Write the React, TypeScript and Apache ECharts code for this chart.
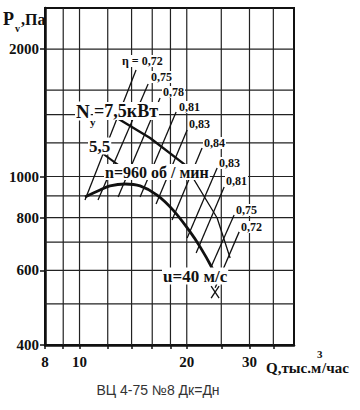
import { useEffect, useRef } from 'react';
import * as echarts from 'echarts';

// Log-log grid and axes
const xGridValues = [9, 10, 12, 14, 16, 18, 20, 25, 30, 35];
const yGridValues = [500, 600, 700, 800, 900, 1000, 1200, 1400, 1600, 2000];
const xTickValues = [8, 9, 10, 12, 14, 16, 18, 20, 25, 30, 35];
const xTickLabels = [8, 10, 20, 30];
const yTickLabels = [400, 600, 800, 1000, 2000];

// Pressure curve n = 960 rpm (Q, thousand m3/h ; Pv, Pa)
const curveQ = [10.36, 11.42, 12.18, 13.42, 14.79, 16.51, 18.31, 20.44, 21.8, 23.56, 23.88];
const curveP = [895, 929, 950, 960, 950, 904, 833, 740, 682, 608, 589];

// Efficiency lines: [lowQ, lowP, highQ, highP]
const etaNames = ['0,72', '0,75', '0,78', '0,81', '0,83', '0,84', '0,83', '0,81', '0,75', '0,72'];
const etaLines = [
  [10.36, 880, 14.41, 1784],
  [11.27, 880, 15.58, 1654],
  [12.83, 895, 16.83, 1532],
  [14.79, 895, 18.67, 1420],
  [16.4, 861, 20.05, 1287],
  [18.19, 789, 22.08, 1168],
  [20.05, 716, 24.34, 1047],
  [21.25, 660, 25.47, 945],
  [22.81, 582, 27.16, 811],
  [24.03, 546, 28.06, 740],
];

// Power lines
const power75Q = [12.74, 15.78, 19.79];
const power75P = [1374, 1233, 1065];
const power75ContQ = [19.79, 24.34, 26.47];
const power75ContP = [1065, 798, 642];
const power55Q = [11.27, 12.83];
const power55P = [1155, 1065];
const crossA = [[23.41, 551], [24.65, 516]];
const crossB = [[24.65, 551], [23.41, 516]];

const INK = '#111';
const SERIF = 'Liberation Serif';

const zip = (a: number[], b: number[]) => a.map((v, i) => [v, b[i]]);

export default function App() {
  const ref = useRef<HTMLDivElement>(null);
  useEffect(() => {
    if (!ref.current) return;
    const chart = echarts.init(ref.current, undefined, { renderer: 'svg' });

    const gridSeries: any[] = [
      ...xGridValues.map((v) => ({
        type: 'line', data: [[v, 400], [v, 2500]], symbol: 'none', silent: true,
        lineStyle: { color: '#222', width: 1.2 }, z: 1,
      })),
      ...yGridValues.map((v) => ({
        type: 'line', data: [[8, v], [40, v]], symbol: 'none', silent: true,
        lineStyle: { color: '#222', width: 1.2 }, z: 1,
      })),
    ];

    const etaSeries = etaLines.map((l) => ({
      type: 'line', data: [[l[0], l[1]], [l[2], l[3]]], symbol: 'none', silent: true,
      lineStyle: { color: INK, width: 1.3 }, z: 3,
    }));

    const txt = (text: string, x: number, y: number, size: number, opts: any = {}) => ({
      type: 'text', x, y, z: 100,
      style: {
        text, fill: INK, fontFamily: SERIF, fontWeight: 'bold', fontSize: size,
        align: 'left', verticalAlign: 'middle',
        backgroundColor: opts.bg ? '#fff' : undefined, padding: opts.bg ? [0, 1] : undefined,
      },
    });

    const etaPos = [
      [121, 61], [150, 77], [162, 92], [178, 107], [188, 124], [203, 143],
      [218, 163], [225, 181], [235, 210], [240, 227],
    ];

    const option: any = {
      animation: false,
      backgroundColor: '#fff',
      grid: {
        left: 45, top: 8, width: 249, height: 337, show: true,
        borderColor: INK, borderWidth: 2, outerBoundsMode: 'none',
      },
      xAxis: {
        type: 'log', logBase: 10, min: 8, max: 40,
        axisLine: { show: true, lineStyle: { color: INK, width: 2.5 } },
        axisTick: { show: true, customValues: xTickValues, length: 4, lineStyle: { color: INK, width: 1.5 } },
        axisLabel: {
          customValues: xTickLabels, formatter: (v: number) => String(Math.round(v)),
          color: INK, fontFamily: SERIF, fontWeight: 'bold', fontSize: 15, margin: 9,
        },
        splitLine: { show: false }, minorTick: { show: false }, minorSplitLine: { show: false },
      },
      yAxis: {
        type: 'log', logBase: 10, min: 400, max: 2500,
        axisLine: { show: true, lineStyle: { color: INK, width: 2.5 } },
        axisTick: { show: true, customValues: yTickLabels, length: 5, lineStyle: { color: INK, width: 1.5 } },
        axisLabel: {
          customValues: yTickLabels, formatter: (v: number) => String(Math.round(v)),
          color: INK, fontFamily: SERIF, fontWeight: 'bold', fontSize: 15, margin: 6,
        },
        splitLine: { show: false }, minorTick: { show: false }, minorSplitLine: { show: false },
      },
      series: [
        ...gridSeries,
        ...etaSeries,
        { type: 'line', data: zip(curveQ, curveP), smooth: 0.4, symbol: 'none', silent: true,
          lineStyle: { color: INK, width: 2.8 }, z: 5 },
        { type: 'line', data: zip(power75Q, power75P), symbol: 'none', silent: true,
          lineStyle: { color: INK, width: 2.4 }, z: 5 },
        { type: 'line', data: zip(power75ContQ, power75ContP), symbol: 'none', silent: true,
          lineStyle: { color: INK, width: 1.3 }, z: 4 },
        { type: 'line', data: zip(power55Q, power55P), symbol: 'none', silent: true,
          lineStyle: { color: INK, width: 2 }, z: 5 },
        { type: 'line', data: crossA, symbol: 'none', silent: true, lineStyle: { color: INK, width: 1.3 }, z: 4 },
        { type: 'line', data: crossB, symbol: 'none', silent: true, lineStyle: { color: INK, width: 1.3 }, z: 4 },
      ],
      graphic: [
        txt('P', 3, 19, 18),
        txt('v', 15, 28, 10),
        txt(',Па', 21, 19, 16),
        txt('η = ' + etaNames[0], etaPos[0][0], etaPos[0][1], 12, { bg: true }),
        ...etaNames.slice(1).map((n, i) => txt(n, etaPos[i + 1][0], etaPos[i + 1][1], 12, { bg: true })),
        txt('N', 75, 111, 19, { bg: true }),
        txt('y', 90, 122, 11),
        txt('=7,5кВт', 93, 111, 18, { bg: true }),
        txt('5,5', 88, 146, 17, { bg: true }),
        txt('n=960 об / мин', 104, 172, 16, { bg: true }),
        txt('u=40 м/с', 162, 276, 17, { bg: true }),
        txt('Q,тыс.м', 266, 368, 15),
        txt('3', 317, 354, 11),
        txt('/час', 322, 368, 15),
        {
          type: 'text', x: 158, y: 390, z: 100,
          style: {
            text: 'ВЦ 4-75 №8 Дк=Дн', fill: '#333', fontFamily: 'Liberation Sans', fontSize: 14,
            align: 'center', verticalAlign: 'middle',
          },
        },
      ],
    };
    chart.setOption(option);
    return () => chart.dispose();
  }, []);
  return <div ref={ref} style={{ position: 'absolute', left: 0, top: 0, width: 360, height: 410 }} />;
}
